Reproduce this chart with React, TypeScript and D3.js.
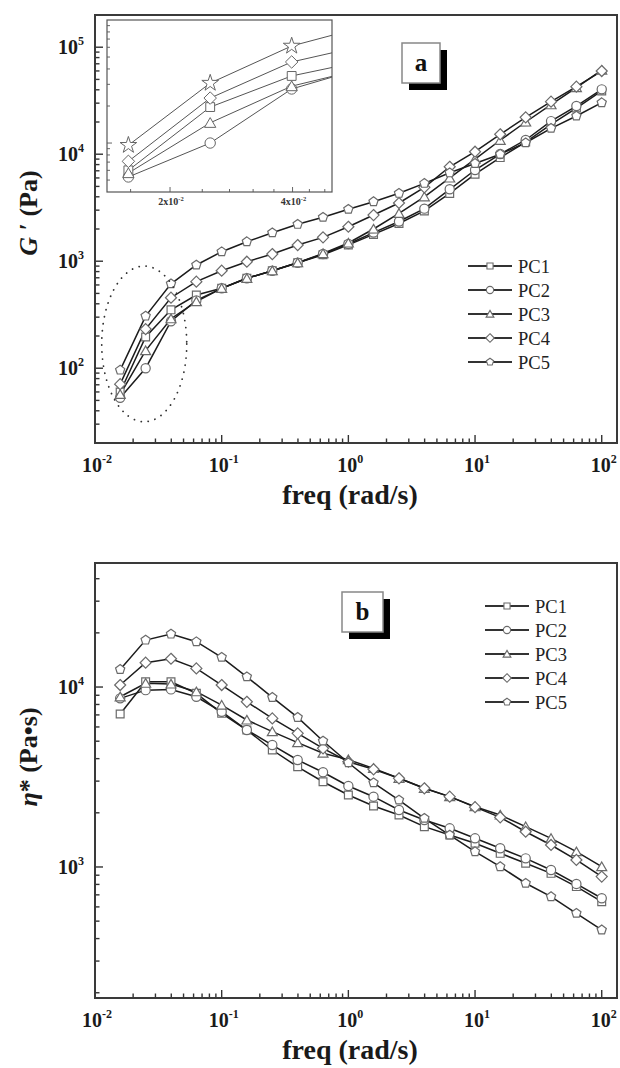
import React, { useEffect, useRef } from "react";
import * as d3 from "d3";

// angular frequency (rad/s), shared by both panels
const freqs = [0.0158, 0.0251, 0.0398, 0.0631, 0.1, 0.158, 0.251, 0.398, 0.631, 1, 1.58, 2.51, 3.98, 6.31, 10, 15.8, 25.1, 39.8, 63.1, 100];

const seriesNames = ["PC1", "PC2", "PC3", "PC4", "PC5"];
const markerKinds = ["square", "circle", "triangle", "diamond", "pentagon"];

// storage modulus G' (Pa)
const gPC1 = [60, 196, 351, 483, 558, 692, 815, 968, 1150, 1420, 1780, 2250, 2950, 4300, 6500, 9300, 13000, 19000, 27000, 39000];
const gPC2 = [53, 100, 275, 430, 558, 692, 815, 968, 1167, 1450, 1850, 2350, 3100, 4700, 7120, 10040, 13580, 20400, 28200, 40400];
const gPC3 = [57, 146, 290, 419, 558, 692, 815, 968, 1180, 1480, 2000, 2800, 4000, 6000, 9000, 13500, 20000, 29000, 42000, 61000];
const gPC4 = [71, 232, 456, 644, 815, 989, 1167, 1416, 1671, 2099, 2700, 3500, 4900, 7630, 10550, 15350, 22100, 31000, 42800, 59900];
const gPC5 = [96, 307, 615, 922, 1227, 1522, 1845, 2212, 2572, 3055, 3600, 4310, 5340, 6700, 8200, 10000, 12800, 17460, 22760, 30300];

// complex viscosity eta* (Pa.s)
const etaPC1 = [7080, 10700, 10700, 9230, 7140, 5770, 4467, 3603, 2977, 2512, 2183, 1945, 1675, 1505, 1354, 1191, 1048, 922, 778, 641];
const etaPC2 = [8650, 9610, 9700, 8830, 7290, 5770, 4760, 3930, 3360, 2820, 2458, 2073, 1824, 1640, 1443, 1270, 1117, 962, 805, 670];
const etaPC3 = [8830, 10500, 10400, 9420, 7940, 6560, 5650, 4910, 4290, 3950, 3530, 3110, 2737, 2460, 2163, 1945, 1675, 1443, 1216, 1004];
const etaPC4 = [10260, 13650, 14360, 12690, 10260, 8280, 6690, 5530, 4565, 3845, 3490, 3110, 2737, 2460, 2150, 1888, 1570, 1325, 1094, 884];
const etaPC5 = [12530, 18240, 19690, 17860, 14630, 11400, 8760, 6780, 5010, 3795, 2937, 2355, 1864, 1505, 1216, 1004, 812, 684, 553, 447];

// inset (zoom of the low-frequency start of G')
const insetMarkers = ["square", "circle", "triangle", "diamond", "star"];
const insetXTicks = [0.02, 0.04];
const insetXMinor = [0.016, 0.024, 0.028, 0.032, 0.036, 0.044, 0.048];
const insetXLabels = ["2x10", "4x10"];

// dotted ellipse around the low-frequency points (freq, G')
const ellipseFreq = [0.0113, 0.053];
const ellipseG = [31.6, 900];

const SERIF = "'Liberation Serif', 'Times New Roman', serif";
const W = 620;
const H = 1068;

function markerPath(kind: string, r: number) {
  if (kind === "square") {
    const s = r * 0.85;
    return `M${-s},${-s}H${s}V${s}H${-s}Z`;
  }
  if (kind === "circle") {
    return d3.symbol().type(d3.symbolCircle).size(Math.PI * r * r)()!;
  }
  if (kind === "star") {
    return d3.symbol().type(d3.symbolStar).size(r * r * 3.2)()!;
  }
  const n = kind === "triangle" ? 3 : kind === "diamond" ? 4 : 5;
  const rr = kind === "triangle" ? r * 1.25 : kind === "diamond" ? r * 1.2 : r * 1.05;
  const pts = d3.range(n).map(i => {
    const a = -Math.PI / 2 + (i * 2 * Math.PI) / n;
    return [Math.cos(a) * rr, Math.sin(a) * rr + (kind === "triangle" ? r * 0.25 : 0)];
  });
  return "M" + pts.map(p => p[0].toFixed(2) + "," + p[1].toFixed(2)).join("L") + "Z";
}

function logTicks(domain: number[]) {
  const major: number[] = [];
  const minor: number[] = [];
  const lo = Math.floor(Math.log10(domain[0]));
  const hi = Math.ceil(Math.log10(domain[1]));
  for (let k = lo; k <= hi; k++) {
    for (let m = 1; m <= 9; m++) {
      const v = m * Math.pow(10, k);
      if (v <= domain[0] * 1.001 || v >= domain[1] * 0.999) continue;
      if (m === 1) major.push(v);
      else minor.push(v);
    }
  }
  return { major, minor };
}

function powLabel(g: any, x: number, y: number, exp: string, anchor: string, size: number) {
  const t = g.append("text")
    .attr("x", x)
    .attr("y", y)
    .attr("text-anchor", anchor)
    .attr("font-family", SERIF)
    .attr("font-weight", "bold")
    .attr("font-size", size)
    .attr("fill", "#1a1a1a");
  t.append("tspan").text("10");
  t.append("tspan").attr("dy", -size * 0.45).attr("font-size", size * 0.6).text(exp);
}

function drawPanel(svg: any, cfg: any) {
  const { id, top, bottom, yDomain, series, legendX, legendY, box, letter, titleParts, titleY } = cfg;
  const left = 95;
  const right = 617;

  const x = d3.scaleLog().domain([0.01, 132]).range([left, right]);
  const y = d3.scaleLog().domain(yDomain).range([bottom, top]);

  const g = svg.append("g");

  g.append("defs").append("clipPath").attr("id", "clip" + id)
    .append("rect").attr("x", left).attr("y", top).attr("width", right - left).attr("height", bottom - top);

  // ticks (inward)
  const xt = logTicks([0.01, 132]);
  const yt = logTicks(yDomain);
  const tickG = g.append("g").attr("stroke", "#333").attr("stroke-width", 1.4);
  xt.major.forEach(v => tickG.append("line").attr("x1", x(v)).attr("x2", x(v)).attr("y1", bottom).attr("y2", bottom - 8));
  xt.minor.forEach(v => tickG.append("line").attr("x1", x(v)).attr("x2", x(v)).attr("y1", bottom).attr("y2", bottom - 4.5));
  yt.major.forEach(v => tickG.append("line").attr("y1", y(v)).attr("y2", y(v)).attr("x1", left).attr("x2", left + 8));
  yt.minor.forEach(v => tickG.append("line").attr("y1", y(v)).attr("y2", y(v)).attr("x1", left).attr("x2", left + 4.5));

  // tick labels
  [0.01, 0.1, 1, 10, 100].forEach(v => {
    powLabel(g, x(v) + 2, bottom + 29, String(Math.round(Math.log10(v))), "middle", 20);
  });
  yt.major.forEach(v => {
    powLabel(g, 84, y(v) + 7, String(Math.round(Math.log10(v))), "end", 20);
  });

  // axis titles
  g.append("text")
    .attr("x", 350)
    .attr("y", bottom + 61)
    .attr("text-anchor", "middle")
    .attr("font-family", SERIF)
    .attr("font-weight", "bold")
    .attr("font-size", 28)
    .attr("fill", "#1a1a1a")
    .text("freq (rad/s)");

  const yt2 = g.append("text")
    .attr("transform", `translate(37,${titleY}) rotate(-90)`)
    .attr("text-anchor", "middle")
    .attr("font-family", SERIF)
    .attr("font-weight", "bold")
    .attr("font-size", 26)
    .attr("fill", "#1a1a1a");
  titleParts.forEach((p: any) => {
    yt2.append("tspan").attr("font-style", p.italic ? "italic" : "normal").text(p.text);
  });

  // data
  const line = d3.line<number>()
    .x((d, i) => x(freqs[i]))
    .y(d => y(d));
  const dataG = g.append("g").attr("clip-path", `url(#clip${id})`);
  series.forEach((s: number[]) => {
    dataG.append("path")
      .attr("d", line(s))
      .attr("fill", "none")
      .attr("stroke", "#1c1c1c")
      .attr("stroke-width", 1.5);
  });
  series.forEach((s: number[], si: number) => {
    dataG.selectAll(null)
      .data(s)
      .enter()
      .append("path")
      .attr("d", markerPath(markerKinds[si], 4.6))
      .attr("transform", (d: number, i: number) => `translate(${x(freqs[i])},${y(d)})`)
      .attr("fill", "#fff")
      .attr("stroke", "#6a6a6a")
      .attr("stroke-width", 1.2);
  });

  // frame
  g.append("rect")
    .attr("x", left)
    .attr("y", top)
    .attr("width", right - left)
    .attr("height", bottom - top)
    .attr("fill", "none")
    .attr("stroke", "#3a3a3a")
    .attr("stroke-width", 2);

  // legend
  seriesNames.forEach((name, i) => {
    const ly = legendY + i * 24;
    g.append("line")
      .attr("x1", legendX).attr("x2", legendX + 44)
      .attr("y1", ly).attr("y2", ly)
      .attr("stroke", "#333").attr("stroke-width", 2);
    g.append("path")
      .attr("d", markerPath(markerKinds[i], 3.6))
      .attr("transform", `translate(${legendX + 22},${ly})`)
      .attr("fill", "#fff")
      .attr("stroke", "#6a6a6a")
      .attr("stroke-width", 1.1);
    g.append("text")
      .attr("x", legendX + 50)
      .attr("y", ly + 6.5)
      .attr("font-family", SERIF)
      .attr("font-size", 18.5)
      .attr("fill", "#222")
      .text(name);
  });

  // letter box with drop shadow
  g.append("rect")
    .attr("x", box[0] + 7).attr("y", box[1] + 7)
    .attr("width", box[2]).attr("height", box[3])
    .attr("fill", "#000");
  g.append("rect")
    .attr("x", box[0]).attr("y", box[1])
    .attr("width", box[2]).attr("height", box[3])
    .attr("fill", "#fff")
    .attr("stroke", "#888")
    .attr("stroke-width", 1.5);
  g.append("text")
    .attr("x", box[0] + box[2] / 2)
    .attr("y", box[1] + box[3] / 2 + 8)
    .attr("text-anchor", "middle")
    .attr("font-family", SERIF)
    .attr("font-weight", "bold")
    .attr("font-size", 25)
    .attr("fill", "#111")
    .text(letter);

  return { g, x, y };
}

function drawInset(g: any, series: number[][]) {
  const l = 107, r = 332, t = 20, b = 192;
  const x = d3.scaleLog().domain([0.014, 0.05]).range([l, r]);
  const y = d3.scaleLog().domain([40, 1000]).range([b, t]);

  g.append("rect").attr("x", l).attr("y", t).attr("width", r - l).attr("height", b - t)
    .attr("fill", "#fff");
  g.append("defs").append("clipPath").attr("id", "clipInset")
    .append("rect").attr("x", l).attr("y", t).attr("width", r - l).attr("height", b - t);

  const ticks = g.append("g").attr("stroke", "#555").attr("stroke-width", 0.9);
  insetXTicks.forEach(v => ticks.append("line").attr("x1", x(v)).attr("x2", x(v)).attr("y1", b).attr("y2", b - 5));
  insetXMinor.forEach(v => ticks.append("line").attr("x1", x(v)).attr("x2", x(v)).attr("y1", b).attr("y2", b - 3));
  const yt = logTicks([40, 1000]);
  yt.major.forEach(v => ticks.append("line").attr("y1", y(v)).attr("y2", y(v)).attr("x1", l).attr("x2", l + 5));
  yt.minor.forEach(v => ticks.append("line").attr("y1", y(v)).attr("y2", y(v)).attr("x1", l).attr("x2", l + 3));

  insetXTicks.forEach((v, i) => {
    const tx = g.append("text")
      .attr("x", x(v) + 1)
      .attr("y", b + 13)
      .attr("text-anchor", "middle")
      .attr("font-family", SERIF)
      .attr("font-weight", "bold")
      .attr("font-size", 10)
      .attr("fill", "#333");
    tx.append("tspan").text(insetXLabels[i]);
    tx.append("tspan").attr("dy", -4).attr("font-size", 6.5).text("-2");
  });

  const line = d3.line<number>()
    .x((d, i) => x(freqs[i]))
    .y(d => y(d));
  const dg = g.append("g").attr("clip-path", "url(#clipInset)");
  series.forEach(s => {
    dg.append("path").attr("d", line(s)).attr("fill", "none")
      .attr("stroke", "#555").attr("stroke-width", 1);
  });
  series.forEach((s, si) => {
    dg.selectAll(null)
      .data(s)
      .enter()
      .append("path")
      .attr("d", markerPath(insetMarkers[si], 5.2))
      .attr("transform", (d: number, i: number) => `translate(${x(freqs[i])},${y(d)})`)
      .attr("fill", "#fff")
      .attr("stroke", "#666")
      .attr("stroke-width", 1);
  });

  g.append("rect").attr("x", l).attr("y", t).attr("width", r - l).attr("height", b - t)
    .attr("fill", "none").attr("stroke", "#555").attr("stroke-width", 1.2);
}

export default function App() {
  const ref = useRef<SVGSVGElement>(null);

  useEffect(() => {
    const svg = d3.select(ref.current);
    svg.selectAll("*").remove();

    const gSeries = [gPC1, gPC2, gPC3, gPC4, gPC5];
    const etaSeries = [etaPC1, etaPC2, etaPC3, etaPC4, etaPC5];

    const a = drawPanel(svg, {
      id: "a",
      top: 15,
      bottom: 443,
      yDomain: [20, 200000],
      series: gSeries,
      legendX: 468,
      legendY: 266,
      box: [402, 43, 38, 40],
      letter: "a",
      titleY: 213,
      titleParts: [{ text: "G", italic: true }, { text: " \u2032 " }, { text: "(Pa)" }],
    });

    // dotted ellipse annotation
    const ex = ellipseFreq.map(v => a.x(v));
    const ey = ellipseG.map(v => a.y(v));
    a.g.append("ellipse")
      .attr("cx", (ex[0] + ex[1]) / 2)
      .attr("cy", (ey[0] + ey[1]) / 2)
      .attr("rx", (ex[1] - ex[0]) / 2)
      .attr("ry", (ey[0] - ey[1]) / 2)
      .attr("fill", "none")
      .attr("stroke", "#333")
      .attr("stroke-width", 1.8)
      .attr("stroke-linecap", "round")
      .attr("stroke-dasharray", "0.1 7");

    drawInset(a.g.append("g"), gSeries);

    drawPanel(svg, {
      id: "b",
      top: 563,
      bottom: 998,
      yDomain: [187, 48900],
      series: etaSeries,
      legendX: 485,
      legendY: 606,
      box: [342, 592, 41, 40],
      letter: "b",
      titleY: 757,
      titleParts: [{ text: "\u03B7", italic: true }, { text: "* " }, { text: "(Pa\u2022s)" }],
    });
  }, []);

  return (
    <svg
      ref={ref}
      width={W}
      height={H}
      style={{ position: "absolute", left: 0, top: 0, background: "#fff" }}
    />
  );
}
